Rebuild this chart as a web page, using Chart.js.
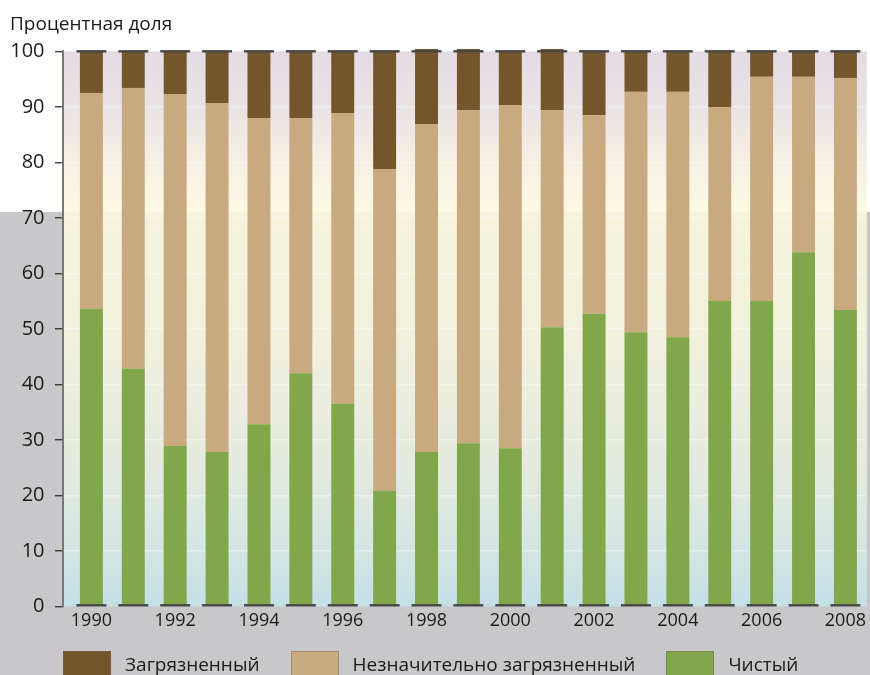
<!DOCTYPE html>
<html lang="ru">
<head>
<meta charset="utf-8">
<title>Процентная доля</title>
<script src="https://cdn.jsdelivr.net/npm/chart.js@4"></script>
<style>
    html, body { margin: 0; padding: 0; overflow: hidden; background: #fff; }
    .wrap   { position: relative; width: 870px; height: 675px; overflow: hidden; }
    #chart  { display: block; }
    .legend { position: absolute; left: 63px; top: 651px; display: flex; gap: 31px;
              font: 19px 'Open Sans', sans-serif; color: #1a1a1a; }
    .legend .item { display: flex; align-items: flex-start; }
    .legend .box  { width: 48px; height: 26px; box-sizing: border-box; margin-right: 14px;
                    border: 1px solid rgba(110,100,90,0.45); }
    .legend .text { line-height: 26px; white-space: nowrap; }
</style>
</head>
<body>
<div class="wrap">
    <canvas id="chart" width="870" height="675"></canvas>
    <div class="legend" id="legend"></div>
</div>
<script>
'use strict';

// ============================================================
// Data
// ============================================================
const years      = [1990, 1991, 1992, 1993, 1994, 1995, 1996, 1997, 1998, 1999,
                    2000, 2001, 2002, 2003, 2004, 2005, 2006, 2007, 2008];
const clean      = [53.6, 42.8, 28.9, 27.8, 32.8, 42.0, 36.5, 20.8, 27.8, 29.4,
                    28.5, 50.3, 52.7, 49.4, 48.5, 55.0, 55.0, 63.8, 53.4];
const slight     = [38.9, 50.6, 63.4, 62.9, 55.2, 46.0, 52.4, 58.0, 59.1, 60.0,
                    61.8, 39.1, 35.8, 43.3, 44.2, 34.9, 40.4, 31.6, 41.8];
const polluted   = [ 7.5,  6.6,  7.7,  9.3, 12.0, 12.0, 11.1, 21.2, 13.5, 11.0,
                     9.7, 11.0, 11.5,  7.3,  7.3, 10.1,  4.6,  4.6,  4.8];
const xTickYears = [1990, 1992, 1994, 1996, 1998, 2000, 2002, 2004, 2006, 2008];
const yTicks     = [0, 10, 20, 30, 40, 50, 60, 70, 80, 90, 100];

const titleText  = 'Процентная доля';
const labels     = ['Чистый', 'Незначительно загрязненный', 'Загрязненный'];
const colors     = ['#80a84b', '#c9aa80', '#75552b'];

// layout constants
const X_MIN    = 1989.322;
const X_MAX    = 2008.511;
const GRAY_TOP = 212;

Chart.defaults.font.family = "'Open Sans', sans-serif";
Chart.defaults.color       = '#1a1a1a';

// ============================================================
// Plugins: page backdrop + dark caps at 0 / 100
// ============================================================
const backdrop = {
    id: 'backdrop',
    beforeDraw(chart) {
        const { ctx, width, height, chartArea: a } = chart;
        ctx.save();
        ctx.fillStyle = '#ffffff';
        ctx.fillRect(0, 0, width, height);
        ctx.fillStyle = '#c8c8ca';
        ctx.fillRect(0, GRAY_TOP, width, height - GRAY_TOP);

        const g = ctx.createLinearGradient(0, a.top, 0, a.bottom);
        const s = (GRAY_TOP - a.top) / (a.bottom - a.top);
        g.addColorStop(0,        '#e3dce3');
        g.addColorStop(s * 0.35, '#e9e3e5');
        g.addColorStop(s * 0.7,  '#f6f0e4');
        g.addColorStop(s,        '#fdf9e3');
        g.addColorStop(s + 0.002,'#f5f3dc');
        g.addColorStop(0.5,      '#f2f1dd');
        g.addColorStop(0.75,     '#e4eae0');
        g.addColorStop(0.88,     '#d6e6e2');
        g.addColorStop(1,        '#c3e0e6');
        ctx.fillStyle = g;
        ctx.fillRect(a.left, a.top, a.right - a.left, a.bottom - a.top);
        ctx.restore();
    }
};

const barCaps = {
    id: 'barCaps',
    afterDatasetsDraw(chart) {
        const { ctx } = chart;
        const y    = chart.scales.y;
        const meta = chart.getDatasetMeta(0);
        ctx.save();
        ctx.strokeStyle = '#474747';
        ctx.lineWidth   = 2.4;
        [y.getPixelForValue(100), y.getPixelForValue(0) - 1].forEach(py => {
            meta.data.forEach(bar => {
                const half = bar.width / 2 + 3.5;
                ctx.beginPath();
                ctx.moveTo(bar.x - half, py);
                ctx.lineTo(bar.x + half, py);
                ctx.stroke();
            });
        });
        ctx.restore();
    }
};

// ============================================================
// Chart
// ============================================================
const series = [clean, slight, polluted];

const chart = new Chart(document.getElementById('chart'), {
    type: 'bar',
    data: {
        datasets: series.map((vals, i) => ({
            label: labels[i],
            data: years.map((x, j) => ({ x, y: vals[j] })),
            backgroundColor: colors[i],
            borderWidth: 0,
            categoryPercentage: 1,
            barPercentage: 0.548,
            clip: false,
        }))
    },
    options: {
        responsive: false,
        animation: false,
        layout: { padding: { left: 10 } },
        plugins: {
            legend:  { display: false },
            tooltip: { enabled: false },
            title: {
                display: true,
                text: titleText,
                align: 'start',
                color: '#1a1a1a',
                font: { size: 19, weight: 'normal' },
                padding: { top: 13, bottom: 15.5 }
            }
        },
        scales: {
            x: {
                type: 'linear',
                stacked: true,
                offset: false,
                min: X_MIN,
                max: X_MAX,
                grid:   { display: false, drawTicks: false, offset: false },
                border: { display: false },
                afterBuildTicks: s => { s.ticks = xTickYears.map(v => ({ value: v })); },
                afterFit: s => { s.height = 68.7; },
                ticks: {
                    callback: v => String(v),
                    font: { size: 18 },
                    color: '#1a1a1a',
                    padding: 4,
                    autoSkip: false,
                    maxRotation: 0
                }
            },
            y: {
                stacked: true,
                min: 0,
                max: 100,
                z: 1,
                afterBuildTicks: s => { s.ticks = yTicks.map(v => ({ value: v })); },
                afterFit: s => { s.width = 53; },
                ticks: { font: { size: 20 }, color: '#1a1a1a', padding: 10.5 },
                grid: {
                    color: c => (c.tick && (c.tick.value === 0 || c.tick.value === 100))
                        ? 'rgba(0,0,0,0)' : 'rgba(255,255,255,0.38)',
                    lineWidth: 1.5,
                    tickColor: '#222',
                    tickWidth: 1.2,
                    tickLength: 8
                },
                border: { color: '#7d766c', width: 2 }
            }
        }
    },
    plugins: [backdrop, barCaps]
});

// ============================================================
// Legend (top series first, as in the picture)
// ============================================================
const legendEl = document.getElementById('legend');
chart.data.datasets.slice().reverse().forEach(ds => {
    const item = document.createElement('div');
    item.className = 'item';
    item.innerHTML = '<span class="box" style="background:' + ds.backgroundColor + '"></span>'
                   + '<span class="text">' + ds.label + '</span>';
    legendEl.appendChild(item);
});
</script>
</body>
</html>
